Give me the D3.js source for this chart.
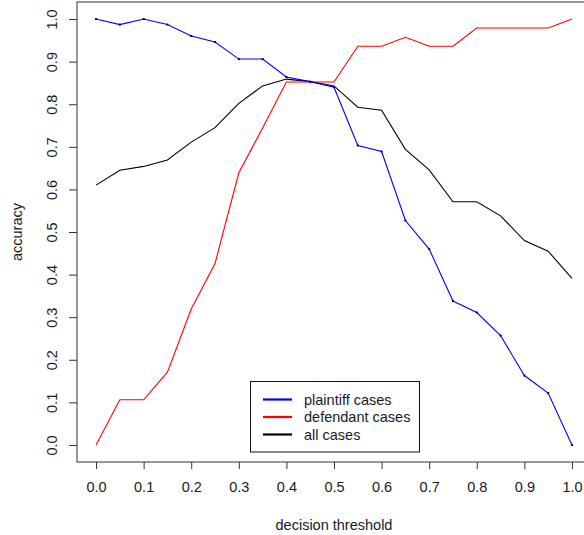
<!DOCTYPE html>
<html lang="en">
<head>
    <meta charset="UTF-8">
    <script src="https://d3js.org/d3.v7.min.js"></script>
    <style>
        body { margin: 0; background: #fff; }
        text { font-family: "Liberation Sans", Arial, sans-serif; fill: #1a1a1a; }
    </style>
    <title>accuracy</title>
</head>
<body>
    <div class="canvas"></div>
    <script>
        // thresholds 0.00 .. 1.00 by 0.05
        const thresholds = [0, 0.05, 0.1, 0.15, 0.2, 0.25, 0.3, 0.35, 0.4, 0.45, 0.5,
            0.55, 0.6, 0.65, 0.7, 0.75, 0.8, 0.85, 0.9, 0.95, 1.0]
        const plaintiff = [1.0, 0.987, 1.0, 0.987, 0.960, 0.946, 0.906, 0.906, 0.864, 0.853, 0.840,
            0.703, 0.689, 0.527, 0.460, 0.338, 0.311, 0.257, 0.163, 0.122, 0.0]
        const defendant = [0.0, 0.106, 0.106, 0.171, 0.319, 0.426, 0.639, 0.744, 0.852, 0.852, 0.852,
            0.936, 0.936, 0.957, 0.936, 0.936, 0.979, 0.979, 0.979, 0.979, 1.0]
        const allCases = [0.610, 0.645, 0.654, 0.669, 0.711, 0.745, 0.802, 0.843, 0.859, 0.853, 0.843,
            0.793, 0.786, 0.694, 0.646, 0.571, 0.571, 0.538, 0.480, 0.455, 0.391]
        const tickValues = [0, 0.1, 0.2, 0.3, 0.4, 0.5, 0.6, 0.7, 0.8, 0.9, 1.0]
        const legendLabels = ['plaintiff cases', 'defendant cases', 'all cases']
        const colors = ['#0000ff', '#ff0000', '#000000']

        const areaWidth = 584
        const areaHeight = 535
        const svg = d3.select('.canvas')
            .append('svg')
            .attr('width', areaWidth)
            .attr('height', areaHeight)

        // R-style 4% padding around data range
        const x = d3.scaleLinear().domain([-0.04, 1.04]).range([77, 591])
        const y = d3.scaleLinear().domain([-0.04, 1.04]).range([462, 2])

        // box
        svg.append('rect')
            .attr('x', 77).attr('y', 2)
            .attr('width', 514).attr('height', 460)
            .attr('fill', 'none')
            .attr('stroke', '#333')
            .attr('stroke-width', 1)

        const xAxis = d3.axisBottom(x)
            .tickValues(tickValues)
            .tickFormat(d3.format('.1f'))
            .tickSize(7)
            .tickPadding(13)
        const xAxisG = svg.append('g')
            .attr('transform', 'translate(0,462)')
            .call(xAxis)
        xAxisG.select('.domain').remove()
        xAxisG.selectAll('line').attr('stroke', '#333')
        xAxisG.selectAll('text')
            .style('font-size', '14.5px')
            .attr('fill', '#1a1a1a')

        const yAxis = d3.axisLeft(y)
            .tickValues(tickValues)
            .tickFormat(d3.format('.1f'))
            .tickSize(8)
        const yAxisG = svg.append('g')
            .attr('transform', 'translate(77,0)')
            .call(yAxis)
        yAxisG.select('.domain').remove()
        yAxisG.selectAll('line').attr('stroke', '#333')
        yAxisG.selectAll('text')
            .attr('x', null).attr('dy', null)
            .attr('text-anchor', 'middle')
            .attr('transform', 'translate(-20,0) rotate(-90)')
            .style('font-size', '14.5px')
            .attr('fill', '#1a1a1a')

        // axis titles
        svg.append('text')
            .attr('x', 334).attr('y', 530)
            .attr('text-anchor', 'middle')
            .style('font-size', '14.5px')
            .text('decision threshold')
        svg.append('text')
            .attr('transform', 'translate(22,232) rotate(-90)')
            .attr('text-anchor', 'middle')
            .style('font-size', '14.5px')
            .text('accuracy')

        const series = [plaintiff, defendant, allCases]
        const line = d3.line()
            .x((d, i) => x(thresholds[i]))
            .y(d => y(d))

        // draw black, red, then blue on top
        ;[2, 1, 0].forEach(k => {
            svg.append('path')
                .attr('fill', 'none')
                .attr('stroke', colors[k])
                .attr('stroke-width', 1.1)
                .attr('d', line(series[k]))
        })

        // small point marks on plaintiff line
        svg.selectAll('.pt').data(plaintiff).enter()
            .append('rect')
            .attr('class', 'pt')
            .attr('x', (d, i) => x(thresholds[i]) - 1)
            .attr('y', d => y(d) - 1)
            .attr('width', 2).attr('height', 2)
            .attr('fill', '#000033')

        // legend
        const lg = svg.append('g')
        lg.append('rect')
            .attr('x', 250.5).attr('y', 381.5)
            .attr('width', 169).attr('height', 70.5)
            .attr('fill', '#fff')
            .attr('stroke', '#111')
            .attr('stroke-width', 1)
        legendLabels.forEach((lab, i) => {
            const ly = 399.5 + i * 17.5
            lg.append('line')
                .attr('x1', 263).attr('x2', 292)
                .attr('y1', ly).attr('y2', ly)
                .attr('stroke', colors[i])
                .attr('stroke-width', 2.2)
            lg.append('text')
                .attr('x', 304).attr('y', ly + 5)
                .style('font-size', '14.5px')
                .text(lab)
        })
    </script>
</body>
</html>
